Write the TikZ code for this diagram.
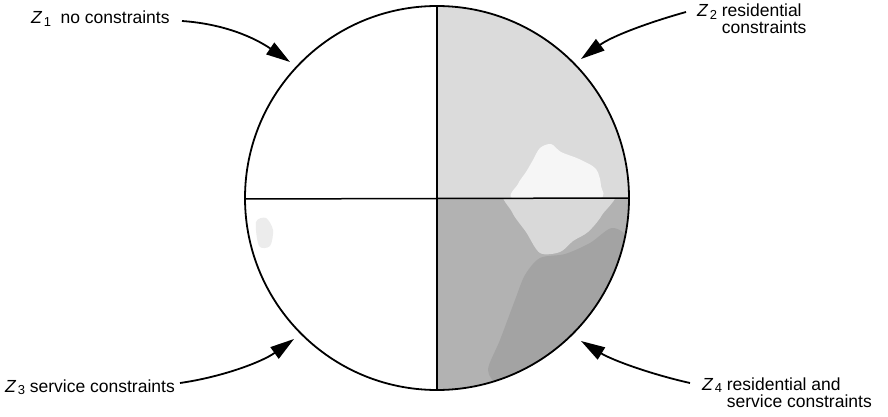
\documentclass[tikz,border=0pt]{standalone}
\usepackage{fontspec}
\setmainfont{Liberation Sans}
\usetikzlibrary{arrows.meta}
\newcommand{\zlab}[1]{\textit{Z}\kern0.08em\raisebox{-0.3ex}{\fontsize{13}{13}\selectfont #1}}
\tikzset{
  lab/.style={inner sep=0pt, anchor=base west, font=\fontsize{17.5}{17}\selectfont, align=left},
  arr/.style={line width=1.8pt, -{Triangle[length=24pt,width=14pt]}},
  rim/.style={line width=1.8pt},
  divider/.style={line width=1.5pt}
}
\begin{document}
\begin{tikzpicture}[x=1pt,y=-1pt]
\useasboundingbox (0,0) rectangle (888,417);
\fill[white] (0,0) rectangle (888,417);
\coordinate (c) at (437,198);
% shading of the quadrants
\begin{scope}
  \clip (c) circle[radius=192pt];
  \fill[gray!28] (437,0) rectangle (640,198);
  \fill[gray!7] plot[smooth cycle] coordinates {(515,199) (518,184) (526,172) (533,160) (540,148) (551,144) (561,152) (579,159) (596,169) (601,186) (597,199)};
  \fill[gray!60] (437,198) rectangle (640,400);
  \begin{scope}
    \clip (437,198) rectangle (640,400);
    \fill[gray!72] plot[smooth cycle] coordinates {(540,258) (565,254) (590,243) (612,228) (628,240) (622,280) (600,320) (570,350) (530,372) (500,384) (488,370) (500,340) (515,300) (525,275)};
    \fill[gray!30] plot[smooth cycle] coordinates {(508,190) (512,212) (526,232) (540,253) (560,252) (573,241) (588,232) (602,215) (612,190)};
  \end{scope}
  \fill[gray!15] plot[smooth cycle] coordinates {(256,222) (266,218) (273,230) (270,246) (259,246)};
\end{scope}
% circle and dividers
\draw[divider] (437,6) -- (437,390);
\draw[divider] (245,199) -- (629,198);
\draw[rim] (c) circle[radius=192pt];
% labels
\node[lab] (l1) at (31,24) {\zlab{1}\hspace{0.55em}no constraints};
\node[lab] (l2) at (697,34) {\zlab{2} residential\\\hphantom{\zlab{2} }constraints};
\node[lab] (l3) at (5,392) {\zlab{3} service constraints};
\node[lab] (l4) at (702,407) {\zlab{4} residential and\\\hphantom{\zlab{4} }service constraints};
% arrow ends
\coordinate (a1) at (182,21);
\coordinate (t1) at (290,62);
\coordinate (a2) at (686,12);
\coordinate (t2) at (581,59);
\coordinate (a3) at (180,383);
\coordinate (t3) at (294,339);
\coordinate (a4) at (690,383);
\coordinate (t4) at (581,341);
\draw[arr] (a1) .. controls (225,24) and (255,38) .. (t1);
\draw[arr] (a2) .. controls (650,22) and (612,36) .. (t2);
\draw[arr] (a3) .. controls (222,377) and (262,362) .. (t3);
\draw[arr] (a4) .. controls (650,374) and (612,360) .. (t4);
\end{tikzpicture}
\end{document}
